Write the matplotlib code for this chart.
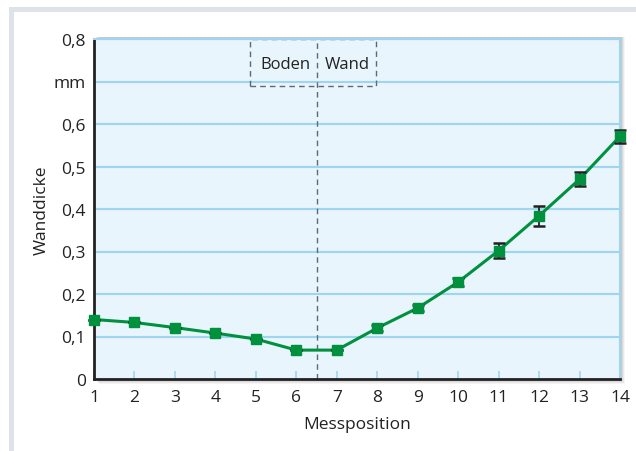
import numpy as np
import matplotlib.pyplot as plt
from matplotlib.patches import Rectangle

plt.rcParams['font.family'] = ['Open Sans', 'DejaVu Sans']

positions = [1, 2, 3, 4, 5, 6, 7, 8, 9, 10, 11, 12, 13, 14]
thickness = [0.14, 0.133, 0.121, 0.108, 0.094, 0.068, 0.068, 0.12, 0.167, 0.228, 0.302, 0.384, 0.47, 0.571]
errors = [0, 0, 0, 0, 0, 0, 0, 0.007, 0.007, 0.01, 0.017, 0.024, 0.016, 0.015]
y_ticks = [0, 0.1, 0.2, 0.3, 0.4, 0.5, 0.6, 0.7, 0.8]
y_labels = ['0', '0,1', '0,2', '0,3', '0,4', '0,5', '0,6', 'mm', '0,8']

green = '#00913f'
bg = '#e8f5fc'
grid_c = '#9fd6ef'

fig = plt.figure(figsize=(6.36, 4.52), dpi=100)

# gray frame band (top and left)
fig.patches.append(Rectangle((9 / 636, 0), 5 / 636, 1 - 8 / 452, transform=fig.transFigure,
                             facecolor='#dde3e8', edgecolor='none', zorder=0))
fig.patches.append(Rectangle((9 / 636, 1 - 13 / 452), 1, 5 / 452, transform=fig.transFigure,
                             facecolor='#dde3e8', edgecolor='none', zorder=0))

ax_pos = [94 / 636, 72 / 452, 526 / 636, 340 / 452]
# soft shadow behind the plot area
for k, a in zip([5, 4, 3, 2], [0.04, 0.05, 0.06, 0.08]):
    fig.patches.append(Rectangle((ax_pos[0] + k / 636, ax_pos[1] - k / 452), ax_pos[2],
                                 ax_pos[3] + k / 452 + 2 / 452,
                                 transform=fig.transFigure, facecolor='black', alpha=a,
                                 edgecolor='none', zorder=0))

ax = fig.add_axes(ax_pos)
ax.set_zorder(2)
ax.set_facecolor(bg)
ax.set_xlim(1, 14)
ax.set_ylim(0, 0.8)

for yv in y_ticks[1:]:
    ax.axhline(yv, color=grid_c, lw=1.5, zorder=1)

ax.set_yticks(y_ticks)
ax.set_yticklabels(y_labels)
ax.set_xticks(positions)
ax.tick_params(axis='y', length=0, labelsize=12.5, pad=6, colors='#222222')
ax.tick_params(axis='x', direction='in', length=6, width=1.2, color=grid_c, labelsize=12.5,
               pad=7, labelcolor='#222222')

for s in ['left', 'bottom']:
    ax.spines[s].set_color('#222222')
    ax.spines[s].set_linewidth(2)
for s in ['right', 'top']:
    ax.spines[s].set_color(grid_c)
    ax.spines[s].set_linewidth(1.5)

# boundary Boden / Wand
ax.axvline(6.5, color='#5a6b75', lw=1, ls=(0, (4, 3)), zorder=2)
ax.add_patch(Rectangle((4.86, 0.689), 7.97 - 4.86, 0.8 - 0.689, facecolor='none',
                       edgecolor='#5a6b75', lw=1, ls=(0, (4, 3)), zorder=2))
ax.text(5.72, 0.742, 'Boden', ha='center', va='center', fontsize=12, color='#222222')
ax.text(7.25, 0.742, 'Wand', ha='center', va='center', fontsize=12, color='#222222')

ax.plot(positions, thickness, color=green, lw=2.2, zorder=3, clip_on=False)
ax.errorbar(positions, thickness, yerr=errors, fmt='none', ecolor='#222222', elinewidth=1.3,
            capsize=4, capthick=1.8, zorder=4, clip_on=False)
ax.plot(positions, thickness, ls='none', marker='s', ms=7.5, color=green, zorder=5, clip_on=False)

ax.set_xlabel('Messposition', fontsize=12.5, color='#222222', labelpad=8)
ax.set_ylabel('Wanddicke', fontsize=12.5, color='#222222', labelpad=3)

fig.savefig('out.png', dpi=100)
